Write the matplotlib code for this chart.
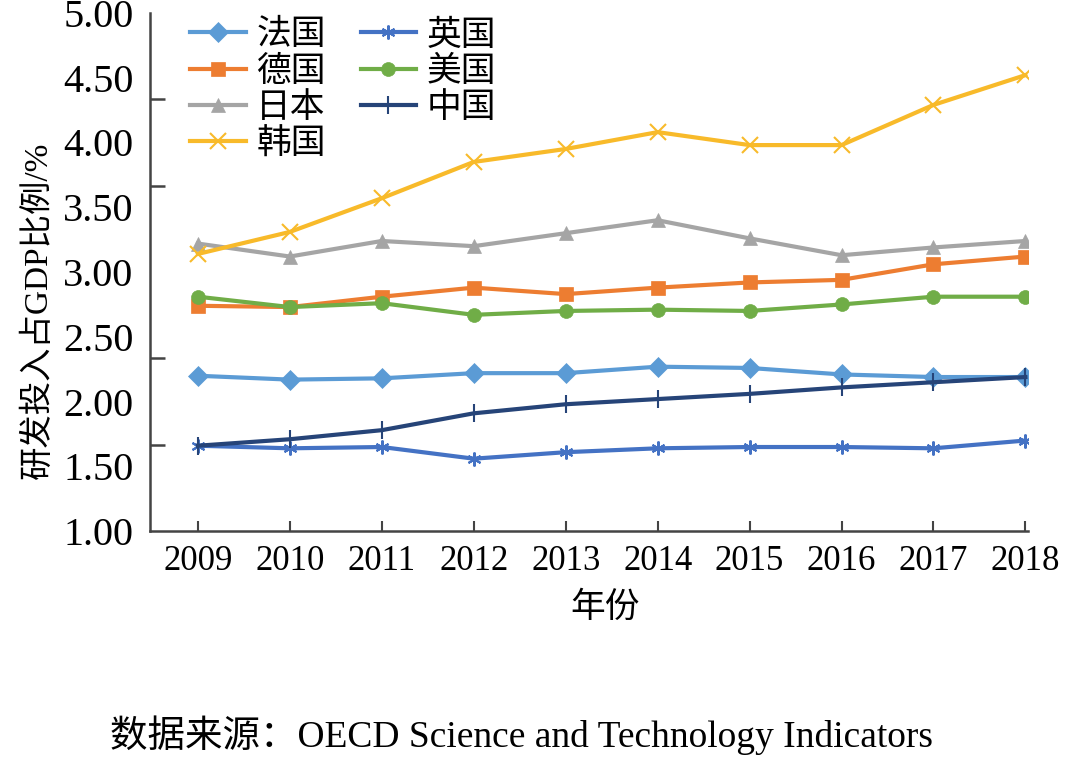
import numpy as np
import matplotlib
matplotlib.use("Agg")
import matplotlib.pyplot as plt

plt.rcParams['font.family'] = ['Liberation Serif', 'Noto Sans CJK SC']

years = [2009, 2010, 2011, 2012, 2013, 2014, 2015, 2016, 2017, 2018]

# 研发投入占GDP比例 (%)
france = [2.20, 2.17, 2.18, 2.22, 2.22, 2.27, 2.26, 2.21, 2.19, 2.19]
germany = [2.74, 2.73, 2.81, 2.88, 2.83, 2.88, 2.92, 2.94, 3.06, 3.12]
japan = [3.22, 3.12, 3.24, 3.20, 3.30, 3.40, 3.26, 3.13, 3.19, 3.24]
korea = [3.14, 3.31, 3.57, 3.85, 3.95, 4.08, 3.98, 3.98, 4.29, 4.52]
uk = [1.66, 1.64, 1.65, 1.56, 1.61, 1.64, 1.65, 1.65, 1.64, 1.70]
usa = [2.81, 2.73, 2.76, 2.67, 2.70, 2.71, 2.70, 2.75, 2.81, 2.81]
china = [1.66, 1.71, 1.78, 1.91, 1.98, 2.02, 2.06, 2.11, 2.15, 2.19]

names = ['法国', '德国', '日本', '韩国', '英国', '美国', '中国']
series = [france, germany, japan, korea, uk, usa, china]
colors = ['#5B9BD5', '#ED7D31', '#A5A5A5', '#F8BA2A', '#4472C4', '#70AD47', '#264478']
markers = ['D', 's', '^', 'x', (6, 2, 0), 'o', '|']

ytick_vals = [1.0, 1.5, 2.0, 2.5, 3.0, 3.5, 4.0, 4.5, 5.0]

fig = plt.figure(figsize=(10.8, 7.6), dpi=100)
ax = fig.add_axes([0.139, 0.301, 0.813, 0.682])

for name, vals, c, m in zip(names, series, colors, markers):
    ms = 10
    if m == 'x':
        ms = 11
    if m == '|':
        ms = 13
    ax.plot(years, vals, color=c, lw=3, marker=m, markersize=ms,
            markeredgewidth=1.5 if m in ('x', '|') or isinstance(m, tuple) else 0.5,
            markeredgecolor=c, markerfacecolor=c, label=name)

ax.set_xlim(2008.48, 2018.03)
ax.set_ylim(1, 5)
ax.set_xticks(years)
ax.set_xticklabels([str(y) for y in years], fontsize=25)
ax.set_yticks(ytick_vals)
ax.set_yticklabels([f'{v:.2f}' for v in ytick_vals], fontsize=29)
ax.set_yticks(np.linspace(1, 5, 7), minor=True)
ax.tick_params(axis='y', which='major', length=0, pad=12)
ax.tick_params(axis='y', which='minor', direction='in', length=11, width=1.8, color='#444444')
ax.tick_params(axis='x', direction='in', length=7, width=1.5, color='#444444', pad=10)

for s in ['top', 'right']:
    ax.spines[s].set_visible(False)
for s in ['left', 'bottom']:
    ax.spines[s].set_color('#444444')
    ax.spines[s].set_linewidth(1.8)

leg = ax.legend(ncol=2, loc='upper left', bbox_to_anchor=(0.03, 1.018), frameon=False,
                prop={'family': ['Noto Sans CJK SC'], 'size': 25},
                labelspacing=0.04, handlelength=1.6, handletextpad=0.3,
                columnspacing=1.0, borderaxespad=0)

fig.text(38 / 1080, 1 - 310 / 760, '研发投入占GDP比例/%', rotation=90,
         ha='center', va='center', fontsize=24)
fig.text(605 / 1080, 1 - 607 / 760, '年份', ha='center', va='center', fontsize=25,
         family=['Noto Sans CJK SC'])
fig.text(110 / 1080, 1 - 735 / 760, '数据来源：OECD Science and Technology Indicators',
         ha='left', va='center', fontsize=27)

fig.savefig('out.png', dpi=100)
